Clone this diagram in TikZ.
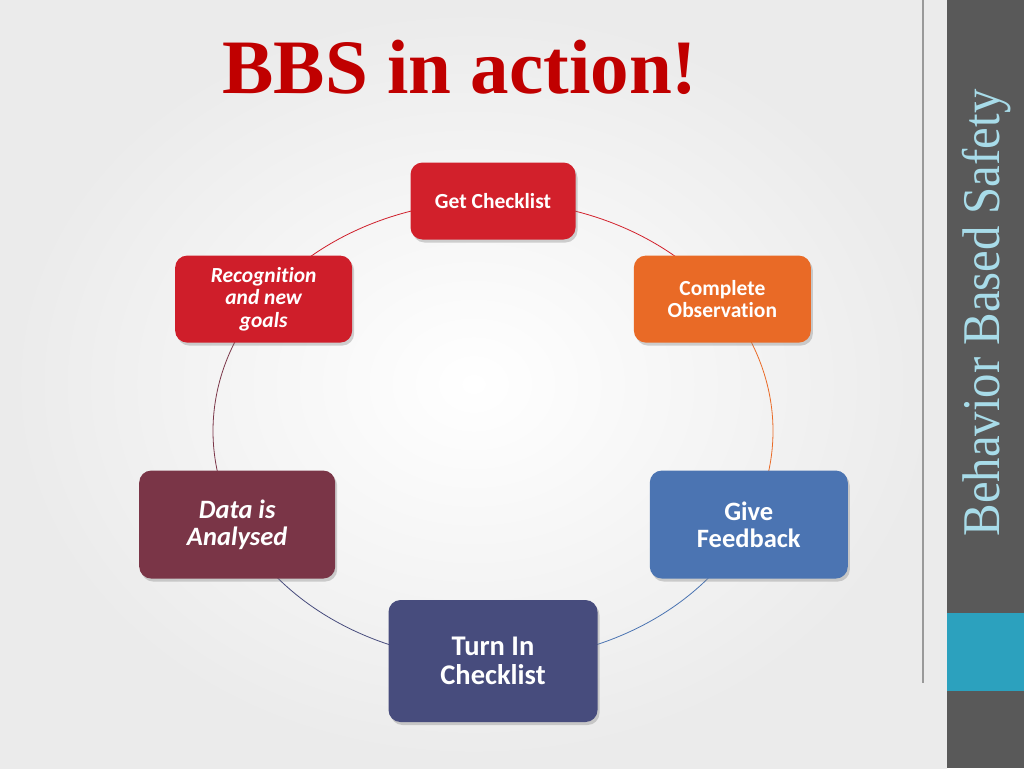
\documentclass[tikz,border=0pt]{standalone}
\usepackage{fontspec}
\setmainfont{Liberation Serif}
\newfontfamily\boxfont[Ligatures=NoCommon]{Carlito}
\usetikzlibrary{shadows}

\definecolor{getred}{HTML}{D2202B}
\definecolor{recogred}{HTML}{CF1E2A}
\definecolor{obsorange}{HTML}{E96A26}
\definecolor{fbblue}{HTML}{4B74B2}
\definecolor{dataplum}{HTML}{7A3547}
\definecolor{turnnavy}{HTML}{474C7D}
\definecolor{titlered}{HTML}{C00000}
\definecolor{bandgray}{HTML}{595959}
\definecolor{bandteal}{HTML}{2CA1BE}
\definecolor{sidetext}{HTML}{A8DCE9}

\pgfdeclarelayer{bg}
\pgfdeclarelayer{ring}
\pgfsetlayers{bg,ring,main}

\begin{document}
\begin{tikzpicture}[x=1pt, y=1pt,
  box/.style={rounded corners=12pt, text=white, align=center, inner sep=0pt,
    drop shadow={shadow xshift=2pt, shadow yshift=-3pt, opacity=0.35}},
  small/.style={font=\boxfont\bfseries\fontsize{21.5}{22.5}\selectfont},
  big/.style={font=\boxfont\bfseries\fontsize{26.5}{27.5}\selectfont},
  ringline/.style={line width=0.8pt}]

% Sizes
\def\cx{493}
\def\cy{-431}
\def\rx{280}
\def\ry{230}

\useasboundingbox (0,0) rectangle (1024,-768);

% Slide background and side band
\begin{pgfonlayer}{bg}
\shade[inner color=white, outer color=black!8] (0,0) rectangle (947,-768);
\fill[bandgray] (947,0) rectangle (1024,-768);
\fill[bandteal] (947,-613) rectangle (1024,-691);
\draw[black!40, line width=1.2pt] (923,0) -- (923,-683);
\end{pgfonlayer}

% Title and side text
\node[font=\bfseries\fontsize{77}{77}\selectfont, text=titlered, anchor=base] (title)
      at (460,-93) {BBS in action!};
\node[rotate=90, text=sidetext, font=\fontsize{53}{53}\selectfont] (side)
      at (987,-313) {\scalebox{0.92}[1]{Behavior Based Safety}};

% Cycle steps
\node[box, small, fill=getred, minimum width=165pt, minimum height=77pt] (get)
      at ({\cx+\rx*cos(90)}, {\cy+\ry*sin(90)}) {Get Checklist};
\node[box, small, fill=obsorange, minimum width=177pt, minimum height=87pt] (observe)
      at ({\cx+\rx*cos(35)}, {\cy+\ry*sin(35)}) {Complete\\Observation};
\node[box, big, fill=fbblue, minimum width=198pt, minimum height=108pt] (feedback)
      at ({\cx+\rx*cos(-24)}, {\cy+\ry*sin(-24)}) {Give\\Feedback};
\node[box, big, fill=turnnavy, minimum width=209pt, minimum height=122pt,
      font=\boxfont\bfseries\fontsize{28.5}{29.5}\selectfont] (turnin)
      at ({\cx+\rx*cos(-90)}, {\cy+\ry*sin(-90)}) {Turn In\\Checklist};
\node[box, big, fill=dataplum, minimum width=196pt, minimum height=108pt,
      font=\boxfont\bfseries\itshape\fontsize{26.5}{27.5}\selectfont] (data)
      at ({\cx+\rx*cos(204)}, {\cy+\ry*sin(204)}) {Data is\\Analysed};
\node[box, small, fill=recogred, minimum width=177pt, minimum height=87pt,
      font=\boxfont\bfseries\itshape\fontsize{21.5}{22.5}\selectfont] (recog)
      at ({\cx+\rx*cos(145)}, {\cy+\ry*sin(145)}) {Recognition\\and new\\goals};

% Ring between the steps
\begin{pgfonlayer}{ring}
\foreach \from/\a/\b/\col in {get/90/35/getred, observe/35/-24/obsorange,
    feedback/-24/-90/fbblue, turnin/-90/-156/turnnavy,
    data/-156/-215/dataplum, recog/145/90/recogred} {
  \draw[ringline, draw=\col] (\from.center)
        arc[start angle=\a, end angle=\b, x radius=\rx pt, y radius=\ry pt];
}
\end{pgfonlayer}

\end{tikzpicture}
\end{document}
